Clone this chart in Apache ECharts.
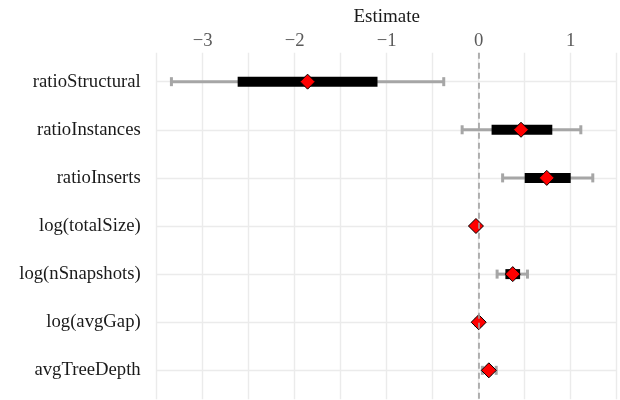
<!DOCTYPE html>
<html><head><meta charset="utf-8">
<script src="https://cdn.jsdelivr.net/npm/echarts@6/dist/echarts.min.js"></script>
<style>html,body{margin:0;padding:0;background:#fff}#c{width:620px;height:400px}</style>
</head><body><div id="c"></div>
<script>
const categories = ['ratioStructural','ratioInstances','ratioInserts','log(totalSize)','log(nSnapshots)','log(avgGap)','avgTreeDepth'];
const estimate = [-1.86, 0.46, 0.74, -0.03, 0.37, 0.00, 0.11];
const lo95 = [-3.34, -0.18, 0.26, -0.045, 0.20, -0.03, 0.04];
const hi95 = [-0.38, 1.11, 1.24, -0.015, 0.53, 0.025, 0.19];
const lo50 = [-2.62, 0.14, 0.50, -0.035, 0.29, -0.015, 0.08];
const hi50 = [-1.10, 0.80, 1.00, -0.025, 0.45, 0.01, 0.14];
const xTicks = [-3, -2, -1, 0, 1];

const FONT = '"Liberation Serif", "DejaVu Serif", serif';
const chart = echarts.init(document.getElementById('c'), null, {renderer: 'canvas'});

const whiskerData = categories.map((c, i) => [i, lo95[i], hi95[i]]);
const barData = categories.map((c, i) => [i, lo50[i], hi50[i]]);
const pointData = categories.map((c, i) => [estimate[i], i]);

chart.setOption({
  animation: false,
  backgroundColor: '#fff',
  grid: {left: 156.7, right: 3.3, top: 52.8, bottom: 0.8, containLabel: false, outerBoundsMode: 'none'},
  xAxis: {
    type: 'value', position: 'top', min: -3.5, max: 1.5, interval: 0.5,
    name: 'Estimate', nameLocation: 'middle', nameGap: 26,
    nameTextStyle: {fontFamily: FONT, fontSize: 19, color: '#1a1a1a'},
    axisLine: {show: false}, axisTick: {show: false},
    axisLabel: {
      fontFamily: FONT, fontSize: 18.7, color: '#5a5a5a', margin: 2,
      formatter: v => {
        const r = Math.round(v);
        if (Math.abs(v - r) > 1e-6 || xTicks.indexOf(r) < 0) return '';
        return r < 0 ? '\u2212' + Math.abs(r) : String(r);
      }
    },
    splitLine: {show: true, showMinLine: true, showMaxLine: true, lineStyle: {color: '#ebebeb', width: 1.4}}
  },
  yAxis: {
    type: 'value', inverse: true, min: -0.6, max: 6.6, minInterval: 1, maxInterval: 1,
    axisLine: {show: false}, axisTick: {show: false},
    axisLabel: {
      fontFamily: FONT, fontSize: 18.7, color: '#1a1a1a', margin: 16,
      showMinLabel: false, showMaxLabel: false,
      formatter: v => {
        const r = Math.round(v);
        if (Math.abs(v - r) > 1e-6 || r < 0 || r >= categories.length) return '';
        return categories[r];
      }
    },
    splitLine: {show: true, showMinLine: false, showMaxLine: false, lineStyle: {color: '#ebebeb', width: 1.4}}
  },
  series: [
    {
      type: 'custom', name: 'ci95', z: 2,
      data: whiskerData,
      encode: {x: [1, 2], y: 0},
      renderItem: (params, api) => {
        const y = api.value(0);
        const a = api.coord([api.value(1), y]);
        const b = api.coord([api.value(2), y]);
        const st = {stroke: '#a6a6a6', lineWidth: 3};
        return {type: 'group', children: [
          {type: 'line', shape: {x1: a[0], y1: a[1], x2: b[0], y2: b[1]}, style: st},
          {type: 'line', shape: {x1: a[0], y1: a[1] - 4.5, x2: a[0], y2: a[1] + 4.5}, style: st},
          {type: 'line', shape: {x1: b[0], y1: b[1] - 4.5, x2: b[0], y2: b[1] + 4.5}, style: st}
        ]};
      },
      markLine: {
        silent: true, symbol: 'none', label: {show: false},
        lineStyle: {color: '#a0a0a0', type: [6, 4], width: 1.6},
        data: [{xAxis: 0}]
      }
    },
    {
      type: 'custom', name: 'ci50', z: 3,
      data: barData,
      encode: {x: [1, 2], y: 0},
      renderItem: (params, api) => {
        const y = api.value(0);
        const a = api.coord([api.value(1), y]);
        const b = api.coord([api.value(2), y]);
        return {type: 'rect', shape: {x: a[0], y: a[1] - 5, width: b[0] - a[0], height: 10}, style: {fill: '#000'}};
      }
    },
    {
      type: 'scatter', name: 'estimate', z: 4,
      data: pointData,
      symbol: 'diamond', symbolSize: [15, 15],
      itemStyle: {color: '#ff0000', borderColor: '#000', borderWidth: 1, opacity: 1}
    }
  ]
});
</script></body></html>
